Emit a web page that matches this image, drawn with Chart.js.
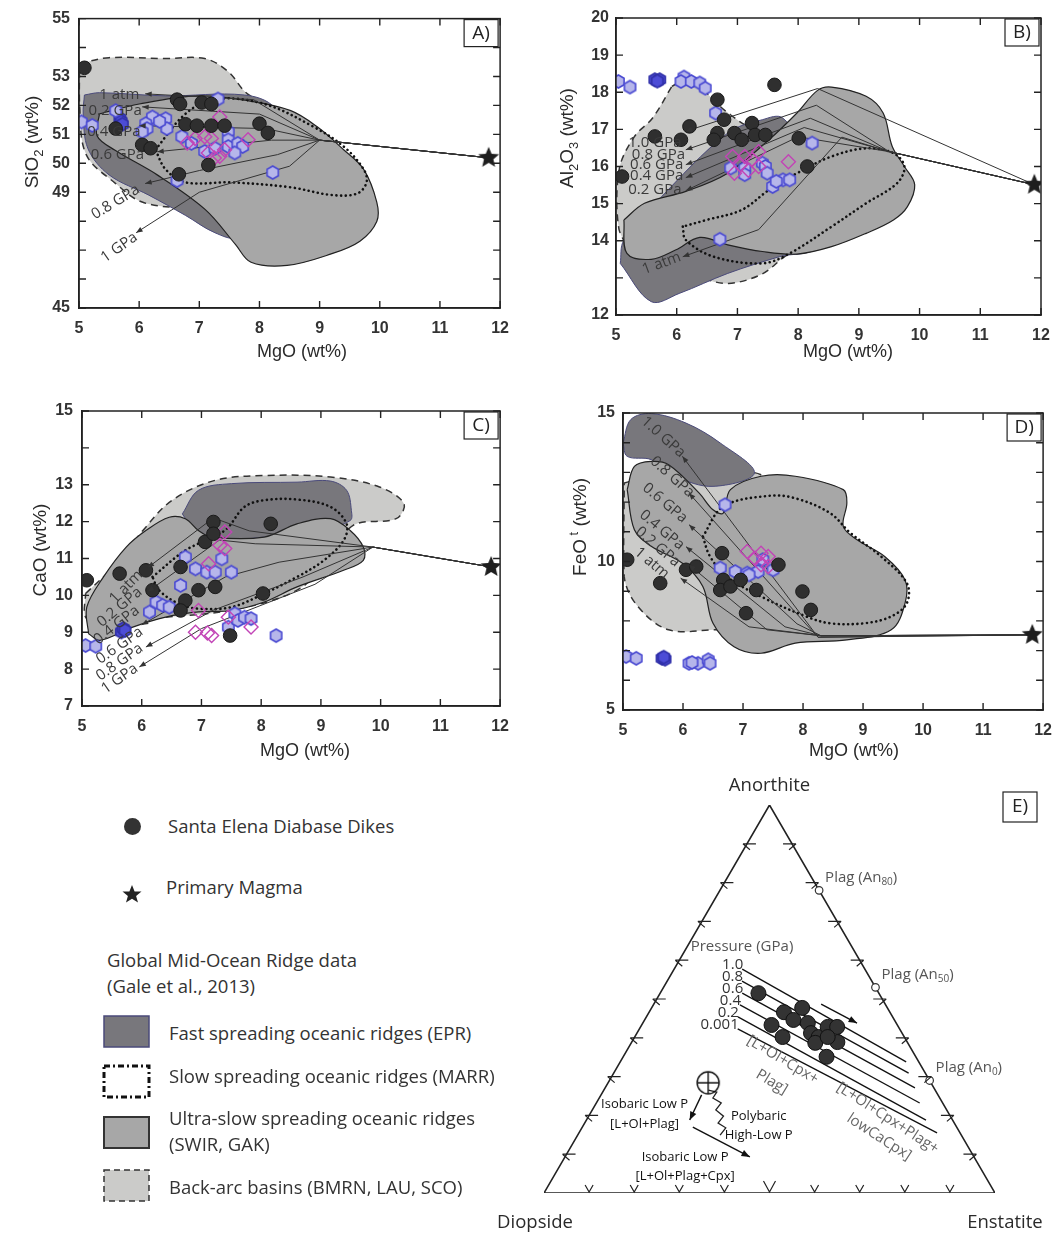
<!DOCTYPE html>
<html>
<head>
<meta charset="utf-8">
<script src="https://cdn.jsdelivr.net/npm/chart.js@4.4.0/dist/chart.umd.min.js"></script>
<style>
  body { margin: 0; background: #fff; width: 1063px; height: 1239px; position: relative; overflow: hidden; }
  canvas { position: absolute; }
  .lt { position: absolute; font-family: "Open Sans", sans-serif; font-size: 18.5px; color: #333; white-space: nowrap; line-height: 26px; }
  .lg { position: absolute; }
</style>
</head>
<body>
<canvas id="chartA" width="520" height="385" style="left:0;top:0"></canvas>
<canvas id="chartB" width="543" height="385" style="left:520px;top:0"></canvas>
<canvas id="chartC" width="520" height="395" style="left:0;top:385px"></canvas>
<canvas id="chartD" width="543" height="395" style="left:520px;top:385px"></canvas>
<canvas id="chartE" width="573" height="469" style="left:490px;top:770px"></canvas>

<!-- legend -->
<div class="lg" style="left:124px;top:818px;width:17px;height:17px;border-radius:50%;background:#333"></div>
<div class="lt" style="left:168px;top:813px">Santa Elena Diabase Dikes</div>
<svg class="lg" style="left:122px;top:884px" width="20" height="20"><polygon points="10,1 12.6,7.4 19.5,7.6 14.1,11.9 16,18.6 10,14.7 4,18.6 5.9,11.9 0.5,7.6 7.4,7.4" fill="#222"/></svg>
<div class="lt" style="left:166px;top:874px">Primary Magma</div>
<div class="lt" style="left:107px;top:947px">Global Mid-Ocean Ridge data</div>
<div class="lt" style="left:107px;top:973px">(Gale et al., 2013)</div>
<svg class="lg" style="left:103px;top:1015px" width="47" height="34"><rect x="1" y="1" width="45" height="31" fill="#78777c" stroke="#4a4a7a" stroke-width="1.5"/></svg>
<div class="lt" style="left:169px;top:1020px">Fast spreading oceanic ridges (EPR)</div>
<svg class="lg" style="left:102px;top:1064px" width="50" height="36"><rect x="2" y="2" width="45" height="31" fill="none" stroke="#111" stroke-width="3" stroke-dasharray="6,3,2,3"/></svg>
<div class="lt" style="left:169px;top:1063px">Slow spreading oceanic ridges (MARR)</div>
<svg class="lg" style="left:103px;top:1116px" width="47" height="34"><rect x="1" y="1" width="45" height="31" fill="#a7a7a7" stroke="#333" stroke-width="2"/></svg>
<div class="lt" style="left:169px;top:1105px">Ultra-slow spreading oceanic ridges</div>
<div class="lt" style="left:169px;top:1131px">(SWIR, GAK)</div>
<svg class="lg" style="left:103px;top:1169px" width="47" height="34"><rect x="1" y="1" width="45" height="31" fill="#cbcbc9" stroke="#333" stroke-width="1.5" stroke-dasharray="6,4"/></svg>
<div class="lt" style="left:169px;top:1174px">Back-arc basins (BMRN, LAU, SCO)</div>

<script>
// ---------------- data ----------------
// MgO axis shared by the four panels
const mgoRange = [5, 12];

// A) SiO2 vs MgO
const siTickLabels = [55, 53, 52, 51, 50, 49, 45];
const dikesA = [[5.09,53.3],[6.63,52.2],[6.68,52.05],[7.04,52.1],[7.2,52.05],[5.61,51.2],[6.77,51.35],[6.96,51.3],[7.2,51.3],[7.42,51.3],[8.0,51.37],[8.14,51.05],[6.05,50.64],[6.19,50.52],[6.66,49.62],[7.15,49.94]];
const blueA = [[5.04,51.43],[5.22,51.31],[5.61,51.82],[6.22,51.6],[6.44,51.54],[6.46,51.2],[6.11,51.37],[6.13,51.2],[6.05,51.09],[6.34,51.45],[6.71,50.92],[7.31,52.22],[7.48,51.09],[7.48,50.81],[7.48,50.58],[7.64,50.69],[7.72,50.58],[7.59,50.36],[6.87,50.69],[7.09,50.41],[7.26,50.52],[8.22,49.68],[6.63,49.4]];
const darkBlueA = [[5.68,51.55],[5.7,51.45],[5.72,51.35]];
const magentaA = [[7.34,51.6],[6.93,50.86],[7.09,50.92],[7.2,50.86],[7.15,50.36],[7.34,50.24],[7.42,50.47],[7.81,50.81],[6.8,50.7],[7.25,50.18]];
const primaryA = [[11.81,50.19]];
const backArcA = [[5.01,53.45],[5.5,53.65],[6.44,53.62],[7.09,53.62],[7.48,53.17],[7.8,52.4],[8.5,51.6],[9.2,50.4],[9.56,49.2],[9.4,48.4],[8.5,48.2],[7.5,48.3],[6.77,48.44],[6.05,48.66],[5.61,49.3],[5.12,50.3],[5.01,52.0]];
const fastA = [[5.09,52.36],[5.34,52.44],[6.44,52.33],[7.75,52.36],[8.25,51.93],[8.63,50.35],[8.08,48.66],[7.64,47.45],[7.26,47.6],[6.77,48.2],[6.16,48.9],[5.5,49.6],[5.15,50.5],[5.07,51.7]];
const ultraA = [[5.34,51.71],[6.0,52.05],[6.98,52.33],[7.81,52.16],[8.52,51.82],[8.96,51.26],[9.4,50.47],[9.73,49.8],[9.95,48.66],[9.95,47.99],[9.67,47.31],[9.18,46.86],[8.46,46.47],[7.86,46.58],[7.6,47.2],[7.1,48.4],[6.3,49.6],[5.6,50.45],[5.3,50.95]];
const slowA = [[6.27,50.47],[6.77,51.71],[7.26,52.22],[8.08,52.05],[8.9,51.26],[9.4,50.58],[9.73,49.8],[9.78,49.34],[9.62,48.95],[9.18,48.91],[8.52,49.17],[7.53,49.34],[6.77,49.34],[6.44,49.79]];
const pathsA = [
  [[9.0,50.8],[7.9,52.2],[6.1,52.4]],
  [[9.0,50.8],[8.0,51.7],[6.05,51.95]],
  [[9.0,50.8],[8.1,51.2],[6.0,51.3]],
  [[9.0,50.8],[8.2,50.8],[6.3,50.4]],
  [[9.0,50.8],[8.3,50.3],[7.0,49.75],[6.1,49.3]],
  [[9.0,50.8],[8.5,49.9],[7.0,49.0],[5.95,47.6]]
];
const pathNamesA = ['1 atm', '0.2 GPa', '0.4 GPa', '0.6 GPa', '0.8 GPa', '1 GPa'];
const pathLabelAtA = [[5.67,52.38,0],[5.6,51.82,0],[5.58,51.09,0],[5.64,50.3,0],[5.61,48.66,-31],[5.67,47.09,-35]];

// B) Al2O3 vs MgO
const alTickLabels = [20, 19, 18, 17, 16, 15, 14, 12];
const dikesB = [[7.61,18.2],[6.67,17.8],[6.78,17.26],[6.21,17.08],[5.64,16.81],[6.07,16.72],[6.67,16.9],[6.61,16.72],[6.95,16.9],[7.07,16.72],[7.24,17.17],[7.29,16.85],[7.46,16.85],[8.01,16.76],[8.15,16.0],[5.1,15.73]];
const blueB = [[5.04,18.29],[5.23,18.14],[6.12,18.41],[6.07,18.29],[6.24,18.29],[6.38,18.25],[6.47,18.11],[6.64,17.44],[8.23,16.63],[6.71,14.04],[6.89,15.96],[7.12,15.96],[7.12,15.78],[7.41,16.09],[7.46,16.0],[7.49,15.82],[7.58,15.46],[7.75,15.64],[7.86,15.64],[7.64,15.6]];
const darkBlueB = [[5.64,18.34],[5.72,18.34],[5.68,18.3]];
const magentaB = [[6.92,16.27],[7.12,16.27],[7.35,16.4],[7.24,16.18],[7.35,16.0],[6.95,15.82],[7.84,16.13],[7.18,15.9],[7.05,16.05]];
const primaryB = [[11.89,15.51]];
const backArcB = [[5.92,18.16],[6.15,18.34],[6.49,17.98],[6.8,17.5],[7.3,17.0],[8.3,16.8],[9.2,16.3],[9.3,15.3],[8.5,14.3],[7.8,13.6],[7.4,13.1],[6.85,12.85],[6.4,13.0],[5.5,13.4],[5.05,14.3],[5.05,15.9],[5.3,16.8],[5.6,17.3]];
const fastB = [[5.07,13.39],[5.58,12.36],[6.04,12.58],[6.84,13.12],[7.69,13.57],[8.32,13.84],[8.6,15.5],[7.75,17.3],[7.41,17.26],[6.84,16.9],[5.7,15.1],[5.13,14.02]];
const ultraB = [[5.13,14.56],[5.47,15.01],[6.15,15.33],[6.84,15.82],[7.52,16.72],[7.98,17.44],[8.32,18.05],[8.55,18.14],[9.12,17.89],[9.4,17.44],[9.55,16.54],[9.75,16.0],[9.92,15.51],[9.8,14.92],[9.57,14.56],[9.12,14.2],[8.55,13.84],[7.98,13.64],[7.41,13.71],[6.84,13.89],[6.38,14.09],[5.98,13.75],[5.58,13.5],[5.18,13.66]];
const slowB = [[6.1,14.38],[6.15,14.02],[6.61,13.57],[7.41,13.39],[7.86,13.66],[8.55,14.38],[9.12,15.01],[9.63,15.55],[9.75,16.0],[9.57,16.36],[9.12,16.49],[8.55,16.27],[7.98,15.82],[7.52,15.37],[7.07,14.83],[6.49,14.56]];
const pathsB = [
  [[8.32,18.1],[6.15,16.95]],
  [[9.5,16.4],[8.3,17.65],[6.15,16.45]],
  [[9.5,16.4],[8.2,17.3],[6.15,16.05]],
  [[9.5,16.4],[8.1,17.05],[6.15,15.7]],
  [[9.5,16.4],[8.0,16.8],[6.15,15.35]],
  [[9.5,16.4],[8.72,16.79],[7.35,14.3],[6.1,13.57]]
];
const pathNamesB = ['1.0 GPa', '0.8 GPa', '0.6 GPa', '0.4 GPa', '0.2 GPa', '1 atm'];
const pathLabelAtB = [[5.64,16.63,0],[5.7,16.31,0],[5.67,16.04,0],[5.67,15.75,0],[5.64,15.37,0],[5.75,13.39,-20]];

// C) CaO vs MgO
const caTickLabels = [15, 13, 12, 11, 10, 9, 8, 7];
const dikesC = [[5.08,10.41],[5.63,10.59],[6.07,10.68],[6.18,10.14],[6.65,10.77],[7.2,11.99],[7.06,11.45],[7.2,11.67],[8.16,11.94],[6.95,10.14],[7.23,10.23],[6.73,9.86],[6.65,9.59],[8.03,10.05],[7.48,8.91]];
const blueC = [[5.06,8.64],[5.23,8.62],[6.13,9.55],[6.24,9.82],[6.35,9.73],[6.46,9.68],[6.65,10.27],[6.73,11.04],[6.9,10.72],[7.09,10.63],[7.23,10.63],[7.34,10.99],[7.5,10.63],[7.45,9.14],[7.56,9.5],[7.61,9.32],[7.72,9.41],[7.83,9.37],[8.25,8.91]];
const darkBlueC = [[5.66,9.01],[5.69,9.1],[5.72,9.05]];
const magentaC = [[7.39,11.72],[7.31,11.36],[7.39,11.27],[7.12,10.86],[6.95,9.59],[6.9,9.0],[7.17,8.91],[7.45,9.41],[7.83,9.14],[7.1,8.98]];
const primaryC = [[11.85,10.77]];
const backArcC = [[5.06,10.05],[5.58,10.86],[6.02,11.76],[6.51,12.58],[7.23,13.12],[8.05,13.25],[9.16,13.21],[9.98,12.94],[10.39,12.49],[10.26,12.08],[9.54,11.9],[9.16,11.04],[8.6,10.14],[7.5,9.6],[6.4,9.41],[5.3,9.23],[5.06,9.41]];
const fastC = [[6.68,12.21],[6.95,12.85],[7.5,13.03],[8.6,13.07],[9.16,13.1],[9.43,12.85],[9.51,12.3],[9.49,12.03],[8.88,11.67],[8.05,11.58],[7.23,11.49],[6.84,11.85]];
const ultraC = [[5.11,8.96],[5.08,9.68],[5.36,10.5],[5.74,11.31],[6.07,11.76],[6.46,12.12],[6.73,12.08],[6.95,11.76],[7.17,11.58],[8.05,11.58],[8.6,11.94],[9.16,12.08],[9.49,11.76],[9.71,11.31],[9.71,10.95],[9.38,10.68],[8.6,10.23],[8.05,9.82],[7.5,9.59],[6.95,9.55],[6.4,9.41],[5.85,9.14],[5.3,8.78]];
const slowC = [[6.18,10.5],[6.73,11.22],[7.39,11.76],[7.72,12.4],[8.05,12.58],[8.6,12.6],[9.16,12.4],[9.43,11.94],[9.38,11.49],[9.05,10.95],[8.6,10.5],[8.05,10.05],[7.5,9.68],[6.95,9.64],[6.62,9.77],[6.29,10.14]];
const pathsC = [
  [[9.87,11.31],[7.8,11.75],[7.2,12.1],[6.1,10.75]],
  [[9.87,11.31],[7.9,11.4],[7.3,11.5],[6.1,10.1]],
  [[9.87,11.31],[8.3,10.9],[7.4,10.5],[6.0,9.2]],
  [[9.87,11.31],[8.7,10.5],[7.2,9.6],[6.07,8.6]],
  [[9.87,11.31],[8.9,10.3],[7.0,9.1],[5.96,8.06]]
];
const pathNamesC = ['1 atm', '0.2 GPa', '0.4 GPa', '0.6 GPa', '0.8 GPa', '1 GPa'];
const pathLabelAtC = [[5.74,10.23,-45],[5.63,9.68,-40],[5.58,9.19,-38],[5.63,8.64,-35],[5.63,8.19,-35],[5.63,7.74,-35]];

// D) FeOt vs MgO
const feTickLabels = [15, 10, 5];
const dikesD = [[5.07,10.06],[5.62,9.27],[6.05,9.72],[6.22,9.83],[6.65,10.28],[6.67,9.38],[6.62,9.04],[6.79,9.16],[6.96,9.38],[7.22,9.04],[7.05,8.26],[7.59,9.89],[7.99,8.99],[8.13,8.37]];
const blueD = [[6.7,11.91],[6.62,9.78],[6.87,9.66],[7.07,9.61],[7.25,9.66],[7.33,10.06],[7.5,9.72],[7.1,9.55],[5.05,6.8],[5.22,6.74],[6.1,6.57],[6.25,6.57],[6.42,6.69],[6.45,6.57],[6.15,6.6]];
const darkBlueD = [[5.65,6.74],[5.7,6.71],[5.68,6.78]];
const magentaD = [[7.07,10.34],[7.3,10.28],[7.3,9.89],[7.42,9.83],[7.42,10.17],[7.2,10.1]];
const primaryD = [[11.82,7.53]];
const backArcD = [[5.02,12.64],[5.59,12.98],[6.27,12.92],[6.73,12.98],[7.3,12.92],[8.45,11.29],[8.45,9.04],[7.87,7.81],[6.5,7.7],[5.76,7.7],[5.25,8.48],[5.02,9.49]];
const fastD = [[5.0,13.99],[5.13,14.78],[5.47,14.98],[6.05,14.66],[6.62,13.99],[7.19,12.98],[6.5,12.53],[5.87,12.87],[5.47,13.43],[5.07,13.54]];
const ultraD = [[5.07,12.42],[5.19,13.2],[5.47,13.37],[5.76,13.26],[6.27,12.3],[6.5,11.74],[6.67,11.63],[6.79,12.42],[7.3,12.87],[7.87,12.87],[8.67,12.42],[8.73,11.97],[8.67,11.18],[8.9,10.73],[9.36,10.17],[9.7,9.38],[9.7,8.6],[9.47,7.7],[8.73,7.36],[7.87,7.25],[7.3,6.91],[6.85,7.13],[6.5,7.92],[6.33,9.16],[5.99,9.94],[5.47,10.51],[5.19,11.07]];
const slowD = [[6.33,10.84],[6.67,11.85],[7.42,12.21],[7.87,12.13],[8.45,11.63],[8.79,10.96],[9.3,10.17],[9.73,9.27],[9.73,8.6],[9.47,8.15],[9.02,7.92],[8.45,7.92],[8.05,8.15],[7.3,8.82],[6.73,9.49],[6.45,10.17]];
const pathsD = [
  [[8.25,7.45],[5.99,13.54]],
  [[8.25,7.45],[8.0,8.0],[6.1,12.3]],
  [[8.3,7.5],[7.9,7.9],[6.1,11.24]],
  [[8.3,7.5],[7.7,7.8],[6.05,10.5]],
  [[8.3,7.5],[7.4,7.7],[6.1,9.89]],
  [[8.3,7.5],[7.1,7.8],[5.96,9.44]]
];
const pathNamesD = ['1.0 GPa', '0.8 GPa', '0.6 GPa', '0.4 GPa', '0.2 GPa', '1 atm'];
const pathLabelAtD = [[5.67,14.19,42],[5.82,12.85,42],[5.7,11.97,40],[5.65,11.06,40],[5.58,10.49,40],[5.48,9.95,40]];

// E) ternary An-Di-En, points as [An %, En %]
const ternDikes = [[51.5,21.8],[46.6,29.9],[47.7,33.4],[44.6,33.0],[43.3,28.8],[40.2,32.8],[43.8,36.6],[41.2,38.6],[40.2,40.8],[38.7,40.8],[42.8,41.5],[42.8,43.6],[38.9,45.6],[35.1,45.1],[40.2,42.8]];
const pressureNames = ['1.0', '0.8', '0.6', '0.4', '0.2', '0.001'];
const pressureLines = [
  [[57.7,15.1],[33.8,63.4]],
  [[54.6,16.6],[30.9,65.4]],
  [[51.5,18.2],[27.1,68.7]],
  [[48.5,19.2],[23.2,71.7]],
  [[45.4,20.3],[18.8,75.3]],
  [[42.3,21.8],[15.5,79.4]]
];
const plagAn = [78, 53, 29];
const plagNames = ['80', '50', '0'];
const startComp = [[28.4,22.2]];
const trendArrow = [[48.7,37.1],[43.8,47.5]];
const lowPArrow1 = [[25.3,22.3],[18.8,22.9]];
const lowPArrow2 = [[17.0,24.5],[9.3,41.0]];
const polybaricPath = [[26.5,23.2],[26.0,25.3],[24.5,25.2],[23.2,27.7],[21.4,27.4],[19.8,29.9],[18.0,29.6],[16.8,31.9],[14.9,31.6]];

// ---------------- helpers ----------------
function pts(arr) { return arr.map(p => ({ x: p[0], y: p[1] })); }
function closed(arr) { return pts(arr.concat([arr[0]])); }
function tern(arr) { return arr.map(p => ({ x: (p[1] + p[0] / 2) / 100, y: p[0] / 100 })); }

function hexCanvas(r, fill, stroke) {
  const c = document.createElement('canvas');
  c.width = c.height = 2 * r + 4;
  const g = c.getContext('2d');
  const m = r + 2;
  g.beginPath();
  for (let i = 0; i < 6; i++) {
    const a = Math.PI / 6 + i * Math.PI / 3;
    g.lineTo(m + r * Math.cos(a), m + r * Math.sin(a));
  }
  g.closePath();
  g.fillStyle = fill; g.fill();
  g.lineWidth = 1.6; g.strokeStyle = stroke; g.stroke();
  return c;
}
function starCanvas(r, color) {
  const c = document.createElement('canvas');
  c.width = c.height = 2 * r + 2;
  const g = c.getContext('2d');
  g.beginPath();
  for (let i = 0; i < 10; i++) {
    const rr = i % 2 ? r * 0.45 : r;
    const a = -Math.PI / 2 + i * Math.PI / 5;
    g.lineTo(r + 1 + rr * Math.cos(a), r + 1 + rr * Math.sin(a));
  }
  g.closePath();
  g.fillStyle = color; g.fill();
  return c;
}
function crossCircleCanvas(r) {
  const c = document.createElement('canvas');
  c.width = c.height = 2 * r + 4;
  const g = c.getContext('2d');
  const m = r + 2;
  g.strokeStyle = '#111'; g.lineWidth = 1.4;
  g.beginPath(); g.arc(m, m, r, 0, Math.PI * 2); g.stroke();
  g.beginPath(); g.moveTo(m - r, m); g.lineTo(m + r, m); g.moveTo(m, m - r); g.lineTo(m, m + r); g.stroke();
  return c;
}
const hexLight = hexCanvas(6.5, '#b6b6ea', '#4a4ad2');
const hexDark = hexCanvas(6.5, '#4c4cd6', '#3030a8');
const starImg = starCanvas(11, '#1e1e1e');

function arrowHead(ctx, x0, y0, x1, y1, size) {
  const a = Math.atan2(y1 - y0, x1 - x0);
  ctx.beginPath();
  ctx.moveTo(x1, y1);
  ctx.lineTo(x1 - size * Math.cos(a - 0.38), y1 - size * Math.sin(a - 0.38));
  ctx.lineTo(x1 - size * Math.cos(a + 0.38), y1 - size * Math.sin(a + 0.38));
  ctx.closePath();
  ctx.fill();
}

// parts: [text, shift] with shift 0 normal, 1 subscript, -1 superscript
function richText(ctx, parts, x, y, angle, size, family) {
  ctx.save();
  ctx.translate(x, y);
  ctx.rotate(angle);
  ctx.textBaseline = 'middle';
  ctx.textAlign = 'left';
  let w = 0;
  const runs = parts.map(([t, s]) => {
    const fs = s ? size * 0.68 : size;
    ctx.font = fs + 'px ' + family;
    const tw = ctx.measureText(t).width;
    w += tw;
    return { t, s, fs, tw };
  });
  let cx = -w / 2;
  runs.forEach(r => {
    ctx.font = r.fs + 'px ' + family;
    ctx.fillText(r.t, cx, r.s * size * 0.32);
    cx += r.tw;
  });
  ctx.restore();
}

// ---------------- panels A-D ----------------
function panelChart(id, p) {
  const datasets = [
    { data: pts(p.dikes), pointStyle: 'circle', pointRadius: 6.8, backgroundColor: '#2f2f2f', borderColor: '#1a1a1a', borderWidth: 1, order: 0 },
    { data: pts(p.primary), pointStyle: starImg, pointRadius: 11, order: 0 },
    { data: pts(p.magenta), pointStyle: 'rectRot', pointRadius: 7, backgroundColor: 'rgba(0,0,0,0)', borderColor: '#c244b6', borderWidth: 1.4, order: 1 },
    { data: pts(p.blue), pointStyle: hexLight, order: 1 },
    { data: pts(p.darkBlue), pointStyle: hexDark, order: 1 }
  ];
  const pathStart = datasets.length;
  p.paths.forEach(path => datasets.push({
    data: pts(p.primary.concat(path)), showLine: true, pointRadius: 0,
    borderColor: '#333', borderWidth: 1, order: 2
  }));
  const pathEnd = datasets.length;
  datasets.push({ data: closed(p.slow), showLine: true, pointRadius: 0, fill: false, tension: 0.35,
    borderColor: '#111', borderWidth: 2.6, borderDash: [0.1, 4.6], borderCapStyle: 'round', order: 3 });
  datasets.push({ data: closed(p.ultra), showLine: true, pointRadius: 0, fill: 'shape', tension: 0.35,
    backgroundColor: '#a7a7a7', borderColor: '#222', borderWidth: 1.2, order: 4 });
  datasets.push({ data: closed(p.fast), showLine: true, pointRadius: 0, fill: 'shape', tension: 0.35,
    backgroundColor: '#78777c', borderColor: '#4a4a7a', borderWidth: 1, order: 5 });
  datasets.push({ data: closed(p.backArc), showLine: true, pointRadius: 0, fill: 'shape', tension: 0.35,
    backgroundColor: '#cbcbc9', borderColor: '#333', borderWidth: 1.5, borderDash: [7, 5], order: 6 });

  const tickFont = { family: '"Liberation Sans", Arial, sans-serif', size: 16, weight: 'bold' };

  const decor = {
    id: 'decor' + id,
    afterDatasetsDraw(chart) {
      const ctx = chart.ctx;
      const xs = chart.scales.x, ys = chart.scales.y;
      ctx.save();
      // arrowheads at the end of each fractionation path
      ctx.fillStyle = '#333';
      for (let i = pathStart; i < pathEnd; i++) {
        const d = chart.getDatasetMeta(i).data;
        const a = d[d.length - 2], b = d[d.length - 1];
        arrowHead(ctx, a.x, a.y, b.x, b.y, 7);
      }
      // path labels
      ctx.fillStyle = '#3a3a3a';
      ctx.font = '15px "Open Sans", sans-serif';
      ctx.textAlign = 'center';
      ctx.textBaseline = 'middle';
      p.pathNames.forEach((name, i) => {
        const [lx, ly, ang] = p.pathLabelAt[i];
        ctx.save();
        ctx.translate(xs.getPixelForValue(lx), ys.getPixelForValue(ly));
        ctx.rotate(ang * Math.PI / 180);
        ctx.fillText(name, 0, 0);
        ctx.restore();
      });
      ctx.restore();
    },
    afterDraw(chart) {
      const ctx = chart.ctx;
      const { left, right, top, bottom } = chart.chartArea;
      const xs = chart.scales.x, ys = chart.scales.y;
      ctx.save();
      ctx.strokeStyle = '#222';
      ctx.lineWidth = 1.4;
      ctx.beginPath();
      xs.ticks.forEach(t => {
        const px = xs.getPixelForValue(t.value);
        ctx.moveTo(px, bottom); ctx.lineTo(px, bottom - 7);
        ctx.moveTo(px, top); ctx.lineTo(px, top + 7);
      });
      ys.ticks.forEach(t => {
        const py = ys.getPixelForValue(t.value);
        ctx.moveTo(left, py); ctx.lineTo(left + 7, py);
        ctx.moveTo(right, py); ctx.lineTo(right - 7, py);
      });
      ctx.stroke();
      ctx.lineWidth = 1.5;
      ctx.strokeRect(left, top, right - left, bottom - top);
      // panel letter box
      ctx.fillStyle = '#fff';
      ctx.fillRect(right - 36, top + 1, 34, 27);
      ctx.lineWidth = 1.2;
      ctx.strokeRect(right - 36, top + 1, 34, 27);
      ctx.fillStyle = '#222';
      ctx.font = '19px "Open Sans", sans-serif';
      ctx.textAlign = 'center';
      ctx.textBaseline = 'middle';
      ctx.fillText(p.letter, right - 19, top + 15);
      // axis titles
      ctx.fillStyle = '#2a2a2a';
      richText(ctx, [['MgO (wt%)', 0]], p.xTitleAt[0], p.xTitleAt[1], 0, 18, '"Liberation Sans", Arial, sans-serif');
      richText(ctx, p.yTitle, p.yTitleAt[0], p.yTitleAt[1], -Math.PI / 2, 19, '"Liberation Sans", Arial, sans-serif');
      ctx.restore();
    }
  };

  return new Chart(document.getElementById(id), {
    type: 'scatter',
    data: { datasets },
    options: {
      responsive: false,
      animation: false,
      events: [],
      layout: { padding: { top: p.pad[0], right: p.pad[1], left: 0, bottom: 0 } },
      plugins: { legend: { display: false }, tooltip: { enabled: false } },
      scales: {
        x: {
          type: 'linear', min: mgoRange[0], max: mgoRange[1],
          ticks: { stepSize: 1, color: '#333', font: tickFont, padding: 11, maxRotation: 0 },
          grid: { drawOnChartArea: false, drawTicks: false },
          border: { color: '#222', width: 1.5 },
          afterFit: s => { s.height = p.xAxisH; }
        },
        y: {
          type: 'linear', min: p.yRange[0], max: p.yRange[1],
          ticks: { stepSize: 1, color: '#333', font: tickFont, padding: p.yPad,
            callback: v => (p.yLabels.includes(v) ? String(v) : '') },
          grid: { drawOnChartArea: false, drawTicks: false },
          border: { color: '#222', width: 1.5 },
          afterFit: s => { s.width = p.yAxisW; }
        }
      }
    },
    plugins: [decor]
  });
}

panelChart('chartA', {
  letter: 'A)', yRange: [45, 55], yLabels: siTickLabels,
  dikes: dikesA, blue: blueA, darkBlue: darkBlueA, magenta: magentaA, primary: primaryA,
  backArc: backArcA, fast: fastA, ultra: ultraA, slow: slowA,
  paths: pathsA, pathNames: pathNamesA, pathLabelAt: pathLabelAtA,
  pad: [13, 16], xAxisH: 77, yAxisW: 79, yPad: 9,
  xTitleAt: [302, 352], yTitle: [['SiO', 0], ['2', 1], [' (wt%)', 0]], yTitleAt: [33, 142]
});
panelChart('chartB', {
  letter: 'B)', yRange: [12, 20], yLabels: alTickLabels,
  dikes: dikesB, blue: blueB, darkBlue: darkBlueB, magenta: magentaB, primary: primaryB,
  backArc: backArcB, fast: fastB, ultra: ultraB, slow: slowB,
  paths: pathsB, pathNames: pathNamesB, pathLabelAt: pathLabelAtB,
  pad: [18, 22], xAxisH: 70, yAxisW: 96, yPad: 7,
  xTitleAt: [328, 352], yTitle: [['Al', 0], ['2', 1], ['O', 0], ['3', 1], [' (wt%)', 0]], yTitleAt: [48, 138]
});
panelChart('chartC', {
  letter: 'C)', yRange: [7, 15], yLabels: caTickLabels,
  dikes: dikesC, blue: blueC, darkBlue: darkBlueC, magenta: magentaC, primary: primaryC,
  backArc: backArcC, fast: fastC, ultra: ultraC, slow: slowC,
  paths: pathsC, pathNames: pathNamesC, pathLabelAt: pathLabelAtC,
  pad: [26, 14], xAxisH: 74, yAxisW: 82, yPad: 9,
  xTitleAt: [305, 366], yTitle: [['CaO (wt%)', 0]], yTitleAt: [41, 165]
});
panelChart('chartD', {
  letter: 'D)', yRange: [5, 15], yLabels: feTickLabels,
  dikes: dikesD, blue: blueD, darkBlue: darkBlueD, magenta: magentaD, primary: primaryD,
  backArc: backArcD, fast: fastD, ultra: ultraD, slow: slowD,
  paths: pathsD, pathNames: pathNamesD, pathLabelAt: pathLabelAtD,
  pad: [28, 16], xAxisH: 70, yAxisW: 103, yPad: 8,
  xTitleAt: [334, 366], yTitle: [['FeO', 0], [' t', -1], [' (wt%)', 0]], yTitleAt: [61, 142]
});

// ---------------- ternary E ----------------
const ternDatasets = [
  { data: tern(ternDikes), pointStyle: 'circle', pointRadius: 7.5, backgroundColor: '#333', borderColor: '#111', borderWidth: 1, order: 0 },
  { data: tern(plagAn.map(a => [a, 100 - a])), pointStyle: 'circle', pointRadius: 3.8, backgroundColor: '#fff', borderColor: '#333', borderWidth: 1.2, order: 0 },
  { data: tern(startComp), pointStyle: crossCircleCanvas(11), order: 0 },
  { data: tern(polybaricPath), showLine: true, pointRadius: 0, borderColor: '#222', borderWidth: 1.3, order: 1 }
];
const ternArrowStart = ternDatasets.length;
[trendArrow, lowPArrow1, lowPArrow2].forEach(a => ternDatasets.push(
  { data: tern(a), showLine: true, pointRadius: 0, borderColor: '#111', borderWidth: 1.4, order: 1 }));
const ternArrowEnd = ternDatasets.length;
const pressureStart = ternDatasets.length;
pressureLines.forEach(l => ternDatasets.push(
  { data: tern(l), showLine: true, pointRadius: 0, borderColor: '#111', borderWidth: 1.3, order: 2 }));
ternDatasets.push({ data: tern([[0, 0], [0, 100], [100, 0], [0, 0]]), showLine: true, pointRadius: 0,
  borderColor: '#222', borderWidth: 1.6, order: 3 });

const ternDecor = {
  id: 'ternDecor',
  afterDraw(chart) {
    const ctx = chart.ctx;
    const xs = chart.scales.x, ys = chart.scales.y;
    const X = v => xs.getPixelForValue(v), Y = v => ys.getPixelForValue(v);
    ctx.save();
    // edge ticks every 10 %
    ctx.strokeStyle = '#222';
    ctx.lineWidth = 1.2;
    ctx.beginPath();
    for (let i = 1; i < 10; i++) {
      const f = i / 10;
      let px = X(f / 2), py = Y(f);
      ctx.moveTo(px - 4, py); ctx.lineTo(px + 9, py);
      ctx.moveTo(px - 4, py); ctx.lineTo(px + 3, py + 6);
      px = X(1 - f / 2);
      ctx.moveTo(px + 4, py); ctx.lineTo(px - 9, py);
      ctx.moveTo(px + 4, py); ctx.lineTo(px - 3, py + 6);
      px = X(f); py = Y(0);
      const h = i === 5 ? 12 : 8;
      ctx.moveTo(px - h / 2, py - h); ctx.lineTo(px, py - 1); ctx.lineTo(px + h / 2, py - h);
    }
    ctx.stroke();
    // arrowheads
    ctx.fillStyle = '#111';
    for (let i = ternArrowStart; i < ternArrowEnd; i++) {
      const d = chart.getDatasetMeta(i).data;
      arrowHead(ctx, d[0].x, d[0].y, d[1].x, d[1].y, 9);
    }
    const font = '"Open Sans", sans-serif';
    ctx.textBaseline = 'middle';
    // pressure labels at line starts
    ctx.fillStyle = '#333';
    ctx.font = '15px ' + font;
    ctx.textAlign = 'right';
    pressureNames.forEach((n, i) => {
      const d = chart.getDatasetMeta(pressureStart + i).data[0];
      ctx.fillText(n, d.x + 1, d.y - 4);
    });
    ctx.textAlign = 'center';
    ctx.fillStyle = '#555';
    ctx.fillText('Pressure (GPa)', X(0.439), Y(0.634));
    // vertex names
    ctx.fillStyle = '#2a2a2a';
    ctx.font = '18.5px ' + font;
    ctx.fillText('Anorthite', X(0.5), Y(1.049));
    ctx.fillText('Diopside', X(-0.02), Y(-0.077));
    ctx.fillText('Enstatite', X(1.022), Y(-0.077));
    // field labels
    ctx.fillStyle = '#111';
    ctx.font = '13px ' + font;
    [['Isobaric Low P', 0.223, 0.229], ['[L+Ol+Plag]', 0.223, 0.178], ['Polybaric', 0.476, 0.198],
     ['High-Low P', 0.476, 0.149], ['Isobaric Low P', 0.313, 0.093], ['[L+Ol+Plag+Cpx]', 0.313, 0.044]]
      .forEach(([t, x, y]) => ctx.fillText(t, X(x), Y(y)));
    ctx.fillStyle = '#666';
    ctx.font = '15px ' + font;
    [['[L+Ol+Cpx+', 0.529, 0.343, 31], ['Plag]', 0.505, 0.286, 31],
     ['[L+Ol+Cpx+Plag+', 0.762, 0.193, 33], ['lowCaCpx]', 0.743, 0.144, 33]]
      .forEach(([t, x, y, a]) => {
        ctx.save(); ctx.translate(X(x), Y(y)); ctx.rotate(a * Math.PI / 180);
        ctx.fillText(t, 0, 0); ctx.restore();
      });
    // plagioclase labels with subscripts
    ctx.fillStyle = '#555';
    ctx.textAlign = 'left';
    plagAn.forEach((a, i) => {
      const px = X(1 - a / 200) + 6, py = Y(a / 100) - 13;
      ctx.font = '15px ' + font;
      ctx.fillText('Plag (An', px, py);
      let w = ctx.measureText('Plag (An').width;
      ctx.font = '10px ' + font;
      ctx.fillText(plagNames[i], px + w, py + 5);
      w += ctx.measureText(plagNames[i]).width;
      ctx.font = '15px ' + font;
      ctx.fillText(')', px + w, py);
    });
    // panel letter
    ctx.strokeStyle = '#222';
    ctx.lineWidth = 1.2;
    ctx.fillStyle = '#fff';
    ctx.fillRect(513, 22, 34, 30);
    ctx.strokeRect(513, 22, 34, 30);
    ctx.fillStyle = '#222';
    ctx.font = '19px ' + font;
    ctx.textAlign = 'center';
    ctx.fillText('E)', 530, 37);
    ctx.restore();
  }
};

new Chart(document.getElementById('chartE'), {
  type: 'scatter',
  data: { datasets: ternDatasets },
  options: {
    responsive: false,
    animation: false,
    events: [],
    layout: { padding: { left: 54, right: 68, top: 35, bottom: 46 } },
    plugins: { legend: { display: false }, tooltip: { enabled: false } },
    scales: {
      x: { display: false, min: 0, max: 1 },
      y: { display: false, min: 0, max: 1 }
    }
  },
  plugins: [ternDecor]
});
</script>
</body>
</html>
